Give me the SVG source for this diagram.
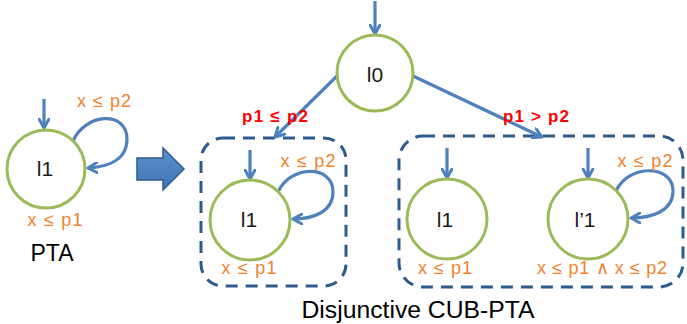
<svg xmlns="http://www.w3.org/2000/svg" width="687" height="324" viewBox="0 0 687 324">
  <defs>
    <marker id="head" markerWidth="12" markerHeight="12" viewBox="0 0 12 12" refX="10" refY="6" orient="auto" markerUnits="userSpaceOnUse">
      <polyline points="1,1 10,6 1,11" fill="none" stroke="#4f81bd" stroke-width="3" stroke-linecap="round" stroke-linejoin="round"/>
    </marker>
    <linearGradient id="bigArrowFill" x1="0" y1="0" x2="0" y2="1">
      <stop offset="0" stop-color="#5b8fcc"/>
      <stop offset="1" stop-color="#4275b5"/>
    </linearGradient>
  </defs>
  <style>
    .state { fill: #ffffff; stroke: #9bbb59; stroke-width: 3; }
    .edge { fill: none; stroke: #4f81bd; stroke-width: 3.2; marker-end: url(#head); }
    .group { fill: none; stroke: #2f5b8c; stroke-width: 3; stroke-dasharray: 12 8; }
    .name { font-family: "Liberation Sans", Arial, sans-serif; font-size: 21px; fill: #1a1a1a; text-anchor: middle; }
    .inv { font-family: "Liberation Sans", Arial, sans-serif; font-size: 18px; fill: #f0822d; text-anchor: middle; }
    .guard { font-family: "Liberation Sans", Arial, sans-serif; font-size: 17px; font-weight: bold; fill: #ff0000; text-anchor: middle; }
    .caption { font-family: "Liberation Sans", Arial, sans-serif; font-size: 23px; fill: #000000; text-anchor: middle; }
  </style>

  <rect width="687" height="324" fill="#ffffff"/>

  <!-- dashed groupings of the two branches -->
  <g id="branch-left">
    <rect class="group" x="201" y="138" width="145" height="148" rx="22"/>
  </g>
  <g id="branch-right">
    <rect class="group" x="399" y="136" width="284" height="151" rx="24"/>
  </g>

  <!-- transformation arrow -->
  <g id="transform-arrow">
    <polygon points="137,158 163,158 163,148 184,169 163,190 163,180 137,180" fill="url(#bigArrowFill)" stroke="#2f5b8c" stroke-width="1.5" stroke-linejoin="miter"/>
  </g>

  <!-- connectors -->
  <g id="connectors">
    <!-- PTA -->
    <line class="edge" x1="44" y1="99" x2="44" y2="128"/>
    <path class="edge" d="M 73 141 C 85 113, 127 110, 127 139 C 127 160, 108 167, 88 168"/>
    <!-- initial edge into l0 -->
    <line class="edge" x1="375" y1="1" x2="375" y2="34"/>
    <!-- l0 branches -->
    <line class="edge" x1="337" y1="76" x2="275" y2="137"/>
    <line class="edge" x1="413" y1="76" x2="542" y2="137"/>
    <!-- left branch -->
    <line class="edge" x1="250" y1="150" x2="250" y2="179"/>
    <path class="edge" d="M 278 192 C 290 165, 333 164, 333 192 C 333 212, 313 219, 293 219"/>
    <!-- right branch -->
    <line class="edge" x1="447" y1="148" x2="447" y2="178"/>
    <line class="edge" x1="588" y1="148" x2="588" y2="178"/>
    <path class="edge" d="M 616 191 C 628 164, 673 164, 673 191 C 673 211, 652 218, 631 218"/>
  </g>

  <!-- PTA -->
  <g id="pta-l1">
    <circle class="state" cx="46" cy="169" r="39"/>
    <text class="name" x="45" y="176">l1</text>
    <text class="inv" x="104" y="107" textLength="54" lengthAdjust="spacing">x ≤ p2</text>
    <text class="inv" x="55" y="226" textLength="55" lengthAdjust="spacing">x ≤ p1</text>
    <text class="caption" x="52" y="261">PTA</text>
  </g>

  <!-- CUB-PTA -->
  <g id="cub-l0">
    <circle class="state" cx="375" cy="73" r="38"/>
    <text class="name" x="375" y="82">l0</text>
  </g>

  <g id="guards">
    <text class="guard" x="275" y="122" textLength="66" lengthAdjust="spacing">p1 ≤ p2</text>
    <text class="guard" x="536" y="122" textLength="66" lengthAdjust="spacing">p1 &gt; p2</text>
  </g>

  <g id="cub-left-l1">
    <circle class="state" cx="250" cy="220" r="40"/>
    <text class="name" x="249" y="227">l1</text>
    <text class="inv" x="308" y="167" textLength="55" lengthAdjust="spacing">x ≤ p2</text>
    <text class="inv" x="249" y="274" textLength="55" lengthAdjust="spacing">x ≤ p1</text>
  </g>

  <g id="cub-right-l1">
    <circle class="state" cx="447" cy="219" r="40"/>
    <text class="name" x="445" y="227">l1</text>
    <text class="inv" x="445" y="274" textLength="54" lengthAdjust="spacing">x ≤ p1</text>
  </g>

  <g id="cub-right-l1prime">
    <circle class="state" cx="588" cy="219" r="40"/>
    <text class="name" x="585" y="227">l’1</text>
    <text class="inv" x="645" y="167" textLength="55" lengthAdjust="spacing">x ≤ p2</text>
    <text class="inv" x="602" y="274" textLength="130" lengthAdjust="spacing">x ≤ p1 ∧ x ≤ p2</text>
  </g>

  <g id="caption">
    <text class="caption" x="418" y="318" textLength="233" lengthAdjust="spacingAndGlyphs">Disjunctive CUB-PTA</text>
  </g>
</svg>
